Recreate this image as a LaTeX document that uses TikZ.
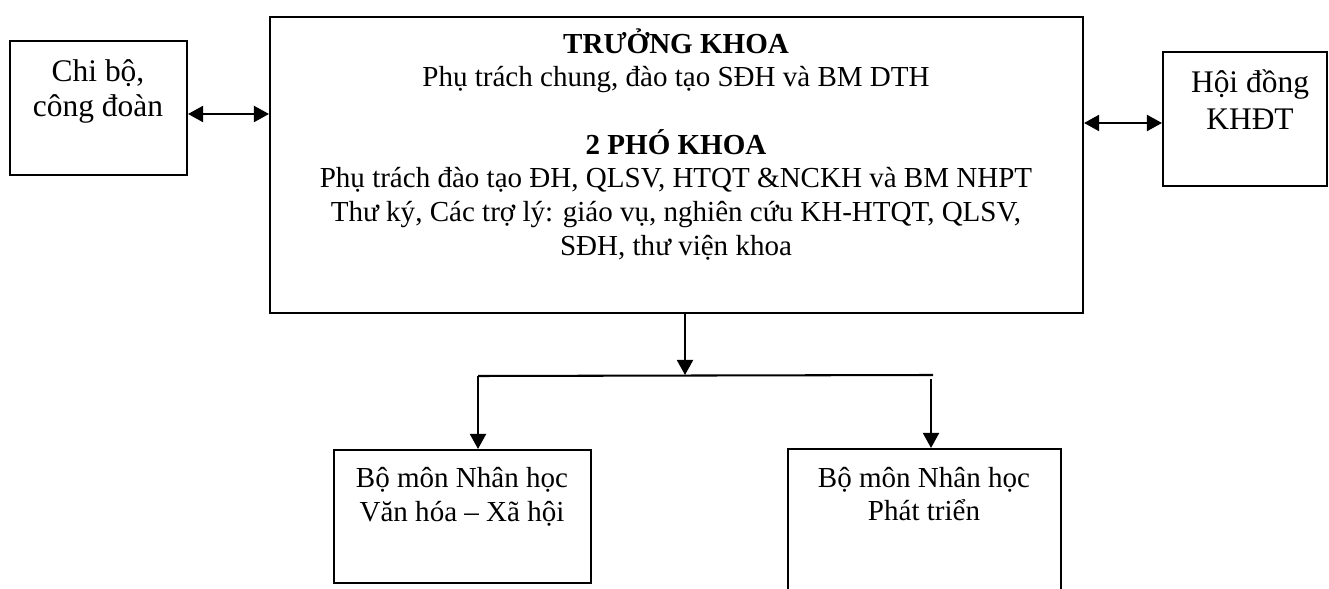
\documentclass[tikz,border=0pt]{standalone}
\usepackage{fontspec}
\setmainfont{Liberation Serif}
\usetikzlibrary{arrows.meta,fit}
\begin{document}
\begin{tikzpicture}[x=0.4133pt,y=-0.4133pt,
  box/.style={draw, line width=0.85pt, inner sep=0pt},
  body/.style={font=\fontsize{12}{13.8}\selectfont, inner sep=0pt, anchor=base},
  side/.style={font=\fontsize{13}{15}\selectfont, inner sep=0pt, anchor=base},
  link/.style={line width=0.85pt},
  arrowdown/.style={-{Triangle[length=6.2pt,width=6.6pt]}},
  arrowboth/.style={{Triangle[length=6.2pt,width=6.6pt]}-{Triangle[length=6.2pt,width=6.6pt]}}]
\clip (0,0) rectangle (1329,589);

% boxes
\node[box, fit={(10,41) (187,175)}] (lbox) {};
\node[box, fit={(270,17) (1083,313)}] (main) {};
\node[box, fit={(1163,52) (1327,186)}] (rbox) {};
\node[box, fit={(334,450) (591,583)}] (lb) {};
\node[box, fit={(788,449) (1061,600)}] (rb) {};

% texts of the dean's office
\node[body] (t1) at (676,54) {\bfseries TRƯỞNG KHOA};
\node[body] (t2) at (676,87) {Phụ trách chung, đào tạo SĐH và BM DTH};
\node[body] (t3) at (676,155) {\bfseries 2 PHÓ KHOA};
\node[body] (t4) at (676,188) {Phụ trách đào tạo ĐH, QLSV, HTQT \&NCKH và BM NHPT};
\node[body] (t5) at (676,222) {Thư ký, Các trợ lý: giáo vụ, nghiên cứu KH-HTQT, QLSV,};
\node[body] (t6) at (676,256) {SĐH, thư viện khoa};

% side boxes
\node[side] (l1) at (98,82) {Chi bộ,};
\node[side] (l2) at (98,117) {công đoàn};
\node[side] (r1) at (1250,93) {Hội đồng};
\node[side] (r2) at (1250,130) {KHĐT};

% departments
\node[body] (b1) at (462,488) {Bộ môn Nhân học};
\node[body] (b2) at (462,522) {Văn hóa – Xã hội};
\node[body] (c1) at (924,488) {Bộ môn Nhân học};
\node[body] (c2) at (924,520) {Phát triển};

% connectors
\coordinate (rowL) at (0,114);
\coordinate (rowR) at (0,123);
\draw[link, arrowboth] (lbox.east |- rowL) -- (main.west |- rowL);
\draw[link, arrowboth] (main.east |- rowR) -- (rbox.west |- rowR);

\coordinate (split) at (685,375);
\coordinate (bl) at (478,376);
\coordinate (br) at (933,375);
\coordinate (brd) at (931,379);
\draw[link, arrowdown] (main.south -| split) -- (split);
\draw[link] (bl) -- (br);
\draw[link, arrowdown] (bl) -- (bl |- lb.north);
\draw[link, arrowdown] (brd) -- (brd |- rb.north);
\end{tikzpicture}
\end{document}
